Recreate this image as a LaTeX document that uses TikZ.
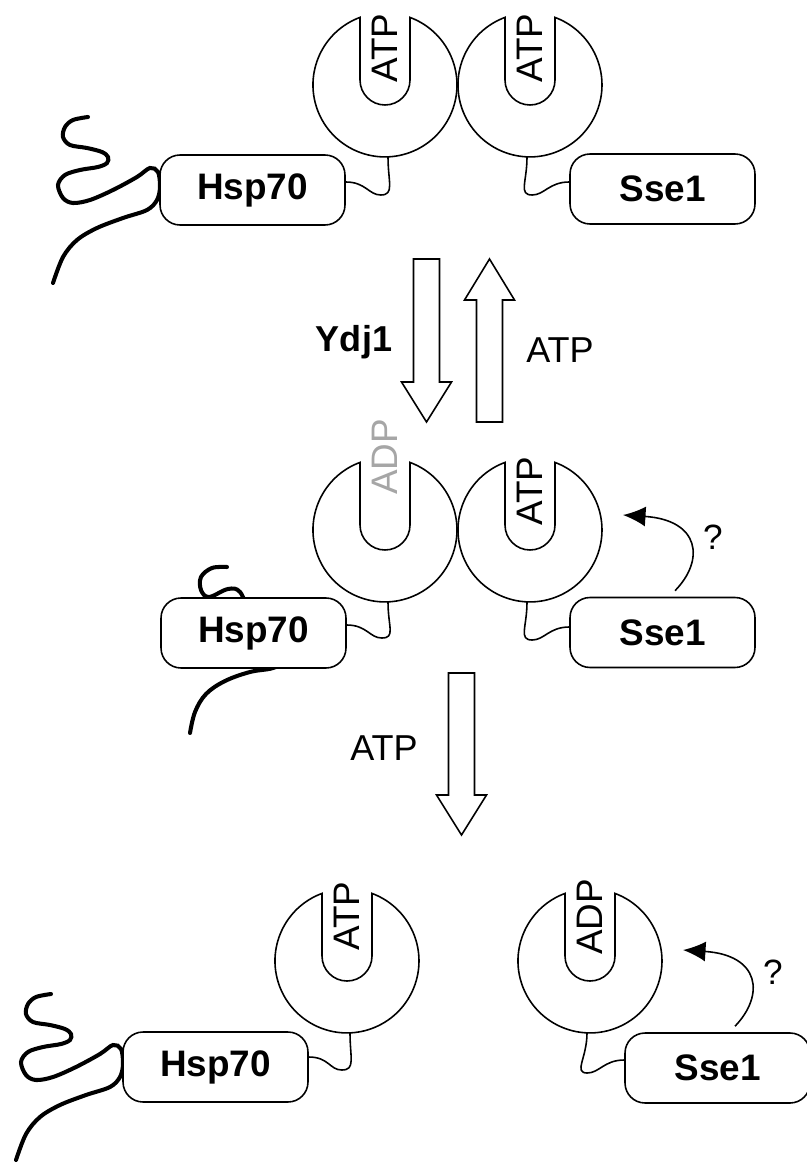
\documentclass[tikz,border=0pt]{standalone}
\usepackage{fontspec}
\setmainfont{Liberation Sans}
\usetikzlibrary{arrows.meta}

\tikzset{
  dombox/.style={draw, rectangle, rounded corners=0.4cm, fill=white, line width=0.9pt,
    minimum width=3.7cm, minimum height=1.4cm, font=\fontsize{21}{24}\selectfont\bfseries},
  nbdshape/.style={draw, fill=white, line width=0.9pt},
  linker/.style={line width=0.9pt},
  peptide/.style={line width=2.3pt, line cap=round},
  nucl/.style={rotate=90, inner sep=0pt, font=\fontsize{21}{24}\selectfont},
  lbl/.style={font=\fontsize{20.5}{24}\selectfont},
  qlbl/.style={font=\fontsize{20}{24}\selectfont},
  blockarrow/.style={draw, fill=white, line width=0.9pt},
  qarrow/.style={line width=0.9pt, -{Latex[length=0.45cm,width=0.4cm]}}
}

\newcommand{\nbd}[3]{%
  \begin{scope}[shift={(#2,#3)},yscale=-1]
    \draw[nbdshape] (-25,67.6) arc[start angle=110.3, end angle=429.7, radius=72]
      -- (25,5) arc[start angle=0, end angle=-180, radius=25] -- cycle;
    \coordinate (#1) at (0,0);
    \coordinate (#1b) at (0,-72);
  \end{scope}}
\newcommand{\fatarrow}[4]{%
  \draw[blockarrow] (#1-13,#2) -- (#1+13,#2) -- (#1+13,#3) -- (#1+25,#3)
    -- (#1,#4) -- (#1-25,#3) -- (#1-13,#3) -- cycle;}
\newcommand{\chain}{plot[smooth, tension=0.55] coordinates {(88,117) (73,120) (65,127)
  (63,137) (70,145) (87,148) (102,152) (108,157) (107,163) (98,167) (80,170) (65,175)
  (58,185) (63,198) (73,203) (90,200) (113,190) (137,177) (150,168) (158,172) (160,187)
  (157,200) (147,210) (123,218) (97,228) (77,240) (63,257) (53,283)}}

\begin{document}
\begin{tikzpicture}[x=0.02cm, y=-0.02cm]
    \useasboundingbox (0,0) rectangle (806,1165);

    \draw[peptide] \chain;
    \draw[peptide] plot[smooth, tension=0.6] coordinates {(227,567) (212,568) (201,577)
      (201,590) (209,597) (228,589) (240,592) (252,615) (280,640) (285,660) (273,668)
      (250,672) (225,681) (206,694) (195,712) (190,733)};
    \begin{scope}[shift={(-37,877)}]
      \draw[peptide] \chain;
    \end{scope}

    \nbd{D1}{385}{85}
    \nbd{D2}{530}{85}
    \nbd{D3}{385}{530}
    \nbd{D4}{530}{530}
    \nbd{D5}{347}{961}
    \nbd{D6}{590}{961}

    \node[nucl] (N1) at (385,48) {ATP};
    \node[nucl] (N2) at (530,48) {ATP};
    \node[nucl, text=black!35] (N3) at (385,457) {ADP};
    \node[nucl] (N4) at (530,491) {ATP};
    \node[nucl] (N5) at (347,916) {ATP};
    \node[nucl] (N6) at (590,917) {ADP};

    \node[dombox] (H1) at (252.5,190) {Hsp70};
    \node[dombox] (S1) at (662.5,189) {Sse1};
    \node[dombox] (H2) at (253.5,633) {Hsp70};
    \node[dombox] (S2) at (662.5,632.5) {Sse1};
    \node[dombox] (H3) at (215.5,1067) {Hsp70};
    \node[dombox] (S3) at (717.5,1068) {Sse1};

    \draw[linker] ([yshift=0.16cm]H1.east) .. controls +(20,0) and +(-12,0) .. ++(35,13)
      .. controls +(14,0) and +(0,25) .. ([xshift=0.06cm]D1b);
    \draw[linker] ([yshift=0.14cm]S1.west) .. controls +(-20,0) and +(12,0) .. ++(-37,13)
      .. controls +(-14,0) and +(0,25) .. ([xshift=-0.06cm]D2b);
    \draw[linker] ([yshift=0.16cm]H2.east) .. controls +(20,0) and +(-12,0) .. ++(35,13)
      .. controls +(14,0) and +(0,25) .. ([xshift=0.06cm]D3b);
    \draw[linker] ([yshift=0.11cm]S2.west) .. controls +(-20,0) and +(12,0) .. ++(-37,13)
      .. controls +(-14,0) and +(0,25) .. ([xshift=-0.06cm]D4b);
    \draw[linker] ([yshift=0.2cm]H3.east) .. controls +(20,0) and +(-12,0) .. ++(33,13)
      .. controls +(14,0) and +(0,25) .. ([xshift=0.06cm]D5b);
    \draw[linker] ([yshift=0.16cm]S3.west) .. controls +(-20,0) and +(12,0) .. ++(-37,13)
      .. controls +(-14,0) and +(0,25) .. ([xshift=-0.06cm]D6b);

    \fatarrow{426.5}{259}{382}{422}
    \fatarrow{489.5}{422}{300}{259}
    \fatarrow{461.5}{673}{795}{835}

    \node[lbl, font=\fontsize{20.5}{24}\selectfont\bfseries] (Y) at (354,342) {Ydj1};
    \node[lbl] (A1) at (560,350) {ATP};
    \node[lbl] (A2) at (384,748) {ATP};

    \coordinate (T2) at (623,515);
    \coordinate (T3) at (683,950);
    \draw[qarrow] ([xshift=0.25cm, yshift=0.12cm]S2.north) .. controls (705,560) and (700,520) .. (T2);
    \draw[qarrow] ([xshift=0.35cm, yshift=0.12cm]S3.north) .. controls (765,995) and (760,955) .. (T3);
    \node[qlbl] (Q2) at (713,537) {?};
    \node[qlbl] (Q3) at (773,972) {?};
\end{tikzpicture}
\end{document}
